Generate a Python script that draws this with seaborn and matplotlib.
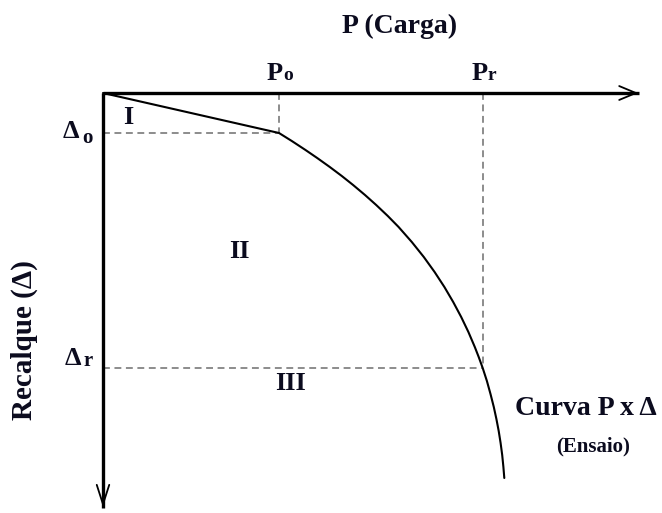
import matplotlib
matplotlib.use("Agg")
import matplotlib.pyplot as plt
import seaborn as sns
import pandas as pd

# ---- data (load P vs settlement Δ, in drawing units) ----
curve_P = [0, 176, 188.8, 202.5, 214.2, 226.8, 238.8, 250.1, 262, 273.2, 284.8, 295.6,
           308.8, 320.8, 331.6, 341.4, 350.2, 358.2, 365.4, 371.8, 375.7, 379.7, 383.9,
           387.5, 390.8, 393.4, 395.7, 397.6, 399.2, 400.4, 401.3]
curve_D = [0, 40, 48, 57, 65, 74, 83, 92, 102, 112, 123, 134,
           149, 164, 179, 194, 209, 224, 239, 254, 264, 275, 288,
           301, 314, 326, 338, 350, 362, 374, 385]
P_o, D_o = 176, 40
P_r, D_r = 380, 275
P_max, D_max = 538, 417
region_labels = ["I", "II", "III"]
region_P = [25, 136, 187]
region_D = [25, 159, 290]

df = pd.DataFrame({"P": curve_P, "D": curve_D})

sns.set_style("white")
plt.rcParams["font.family"] = ["Liberation Serif", "DejaVu Serif"]
plt.rcParams["font.weight"] = "bold"

fig = plt.figure(figsize=(6.62, 5.13), dpi=100)
ax = fig.add_axes([0, 0, 1, 1])

txt = "#0b0b1e"
dash_c = "#6e6e6e"
dash = (0, (4.5, 3))

# reference dashed lines
ax.plot([P_o, P_o], [0, D_o], ls=dash, color=dash_c, lw=1.1)
ax.plot([0, P_o], [D_o, D_o], ls=dash, color=dash_c, lw=1.1)
ax.plot([P_r, P_r], [0, D_r], ls=dash, color=dash_c, lw=1.1)
ax.plot([0, P_r], [D_r, D_r], ls=dash, color=dash_c, lw=1.1)

# curve
sns.lineplot(data=df, x="P", y="D", sort=False, color="black", lw=1.5, ax=ax, estimator=None)
ax.set_xlim(-103, 559)
ax.set_ylim(420, -93)
ax.axis("off")

# axes
ax.plot([0, P_max - 2], [0, 0], color="black", lw=2.4, solid_capstyle="butt")
ax.plot([0, 0], [0, D_max - 2], color="black", lw=2.4, solid_capstyle="butt")
ax.annotate("", xy=(P_max, 0), xytext=(P_max - 30, 0),
            arrowprops=dict(arrowstyle="->,head_length=1.2,head_width=0.5", lw=1.3, color="black"))
ax.annotate("", xy=(0, D_max), xytext=(0, D_max - 30),
            arrowprops=dict(arrowstyle="->,head_length=1.4,head_width=0.45", lw=1.3, color="black"))

# labels
ax.text(297, -60, "P (Carga)", ha="center", va="baseline", fontsize=20, color=txt, fontweight="bold")
ax.text(164, -13, "P", ha="left", va="baseline", fontsize=19, color=txt, fontweight="bold")
ax.text(180, -13, "o", ha="left", va="baseline", fontsize=14, color=txt, fontweight="bold")
ax.text(369, -13, "P", ha="left", va="baseline", fontsize=19, color=txt, fontweight="bold")
ax.text(385, -13, "r", ha="left", va="baseline", fontsize=14, color=txt, fontweight="bold")

ax.text(-40, D_o + 5, "Δ", ha="left", va="baseline", fontsize=19, color=txt, fontweight="bold")
ax.text(-21, D_o + 10, "o", ha="left", va="baseline", fontsize=15, color=txt, fontweight="bold")
ax.text(-38, D_r - 3, "Δ", ha="left", va="baseline", fontsize=19, color=txt, fontweight="bold")
ax.text(-19, D_r - 2, "r", ha="left", va="baseline", fontsize=15, color=txt, fontweight="bold")

for lab, px, dy in zip(region_labels, region_P, region_D):
    ax.text(px, dy, lab, ha="center", va="center", fontsize=19, color=txt, fontweight="bold")

ax.text(-79, 247, "Recalque (Δ)", ha="center", va="center", rotation=90, fontsize=21, color=txt, fontweight="bold")
ax.text(412, 322, "Curva P x Δ", ha="left", va="baseline", fontsize=20, color=txt, fontweight="bold")
ax.text(490, 353, "(Ensaio)", ha="center", va="center", fontsize=15, color=txt, fontweight="bold")

fig.savefig("out.png", dpi=100)
